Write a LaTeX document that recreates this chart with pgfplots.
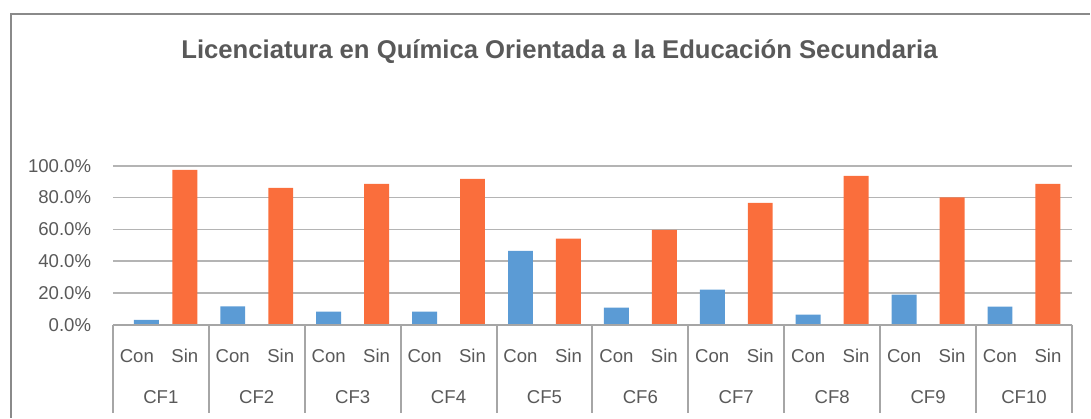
\documentclass[border=0pt]{standalone}
\usepackage{fontspec}
\setmainfont{Liberation Sans}
\usepackage{pgfplots}
\pgfplotsset{compat=1.18}
\definecolor{conblue}{HTML}{5B9BD5}
\definecolor{sinorange}{HTML}{FA6E3C}
\definecolor{txt}{HTML}{595959}
\definecolor{gridc}{HTML}{B4B4B4}
\definecolor{axc}{HTML}{A6A6A6}
\definecolor{framec}{HTML}{8A8A8A}
\begin{document}
\begin{tikzpicture}
\path (0pt,0pt) rectangle (545.5pt,209pt);
\draw[framec, line width=1.1pt] (5.5pt,0pt) -- (5.5pt,202pt) -- (545.5pt,202pt);
\node[text=txt, font=\bfseries\fontsize{12.85}{15}\selectfont] at (280pt,183pt) {Licenciatura en Química Orientada a la Educación Secundaria};
\begin{axis}[
  at={(56.5pt,46.5pt)}, anchor=south west,
  scale only axis, width=480pt, height=79.5pt,
  xmin=-0.5, xmax=19.5, ymin=0, ymax=100,
  axis line style={draw=none},
  ymajorgrids, grid style={gridc, line width=0.75pt},
  major tick length=0pt,
  ytick={0,20,40,60,80,100},
  yticklabels={0.0\%,20.0\%,40.0\%,60.0\%,80.0\%,100.0\%},
  xtick={0,...,19},
  xticklabels={Con,Sin,Con,Sin,Con,Sin,Con,Sin,Con,Sin,Con,Sin,Con,Sin,Con,Sin,Con,Sin,Con,Sin},
  tick label style={font=\fontsize{9.3}{11}\selectfont, text=txt},
  yticklabel style={xshift=-7.4pt},
  xticklabel style={anchor=base, yshift=-18.9pt},
  clip=false,
]
\addplot[ybar, bar shift=0pt, bar width=0.52, fill=conblue, draw=none] coordinates {
(0.2,3.1) (2,11.5) (4,8.2) (6,8.2) (8,46.5) (10,10.7) (12,22.0) (14,6.3) (16,18.9) (18,11.3)};
\addplot[ybar, bar shift=0pt, bar width=0.52, fill=sinorange, draw=none] coordinates {
(1,97.5) (3,86.2) (5,88.7) (7,91.8) (9,54.1) (11,59.7) (13,76.7) (15,93.7) (17,80.1) (19,88.7)};
\draw[axc, line width=1pt] (axis cs:-0.5,0) -- (axis cs:19.5,0);
\pgfplotsinvokeforeach{-0.5,1.5,3.5,5.5,7.5,9.5,11.5,13.5,15.5,17.5,19.5}{
  \draw[axc, line width=1pt] (axis cs:#1,0) -- ++(0pt,-44pt);
}
\node[text=txt, font=\fontsize{9.3}{11}\selectfont, anchor=base, yshift=-39.5pt] at (axis cs:0.5,0) {CF1};
\node[text=txt, font=\fontsize{9.3}{11}\selectfont, anchor=base, yshift=-39.5pt] at (axis cs:2.5,0) {CF2};
\node[text=txt, font=\fontsize{9.3}{11}\selectfont, anchor=base, yshift=-39.5pt] at (axis cs:4.5,0) {CF3};
\node[text=txt, font=\fontsize{9.3}{11}\selectfont, anchor=base, yshift=-39.5pt] at (axis cs:6.5,0) {CF4};
\node[text=txt, font=\fontsize{9.3}{11}\selectfont, anchor=base, yshift=-39.5pt] at (axis cs:8.5,0) {CF5};
\node[text=txt, font=\fontsize{9.3}{11}\selectfont, anchor=base, yshift=-39.5pt] at (axis cs:10.5,0) {CF6};
\node[text=txt, font=\fontsize{9.3}{11}\selectfont, anchor=base, yshift=-39.5pt] at (axis cs:12.5,0) {CF7};
\node[text=txt, font=\fontsize{9.3}{11}\selectfont, anchor=base, yshift=-39.5pt] at (axis cs:14.5,0) {CF8};
\node[text=txt, font=\fontsize{9.3}{11}\selectfont, anchor=base, yshift=-39.5pt] at (axis cs:16.5,0) {CF9};
\node[text=txt, font=\fontsize{9.3}{11}\selectfont, anchor=base, yshift=-39.5pt] at (axis cs:18.5,0) {CF10};
\end{axis}
\end{tikzpicture}
\end{document}
